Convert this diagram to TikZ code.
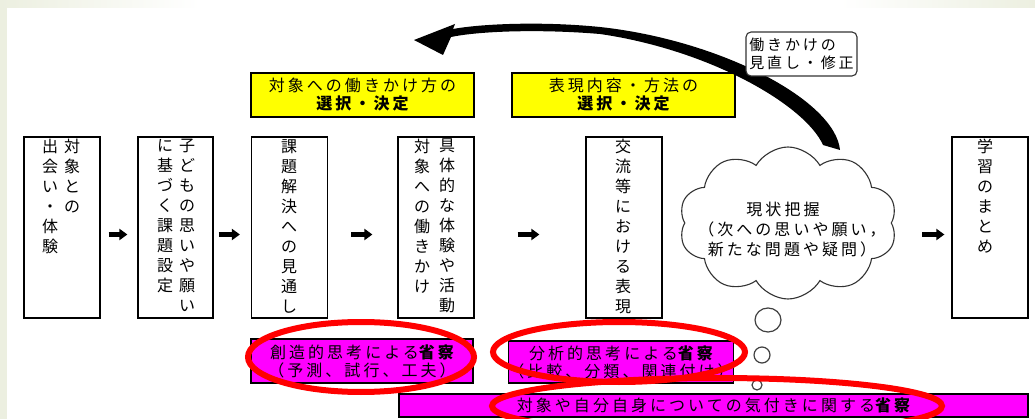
\documentclass[tikz,border=0pt]{standalone}
\usepackage{fontspec}
\setmainfont{Noto Sans CJK JP}
\newfontfamily\jp[LetterSpace=19]{Noto Sans CJK JP}
\newfontfamily\jpv{Noto Sans CJK JP}
\usetikzlibrary{shapes.symbols,arrows.meta,calc}
\definecolor{bgstrip}{RGB}{236,239,224}
\definecolor{yel}{RGB}{255,255,0}
\definecolor{mag}{RGB}{255,0,255}
\definecolor{redring}{RGB}{255,0,0}
\begin{document}
\begin{tikzpicture}[x=1pt,y=-1pt,
  vbox/.style={draw=black, line width=1.2pt, fill=white, minimum width=76pt, minimum height=181pt, inner sep=0},
  vtext/.style={font=\jpv\fontsize{16}{20}\selectfont, align=center, anchor=north, inner sep=0},
  ybox/.style={draw=black, line width=1.2pt, fill=yel, minimum width=223pt, minimum height=44pt, inner sep=0, align=center, font=\jp\fontsize{16}{18}\selectfont},
  mbox/.style={draw=black, line width=1.2pt, fill=mag, inner sep=0, align=center, font=\jp\fontsize{16}{18}\selectfont},
  arr/.style={-{Triangle[length=8pt,width=11pt]}, line width=4.5pt},
  ring/.style={draw=redring, line width=6pt},
  bubble/.style={draw=black!75, line width=1.2pt, fill=white}
]
\clip (0,0) rectangle (1035,419);
\fill[white] (0,0) rectangle (1035,419);
% background strips
\fill[bgstrip] (0,0) rectangle (7,419);
\shade[left color=bgstrip, right color=white] (0,0) rectangle (200,8);
\shade[left color=white, right color=bgstrip] (840,0) rectangle (1035,8);

% yellow boxes
\node[ybox] (ya) at (362.5,95) {対象への働きかけ方の\\{\bfseries 選択・決定}};
\node[ybox] (yb) at (623.5,95) {表現内容・方法の\\{\bfseries 選択・決定}};

% vertical boxes
\node[vbox] (b1) at (62,227.5) {};
\node[vbox, minimum width=75pt] (b2) at (175.5,227.5) {};
\node[vbox] (b3) at (289.5,227.5) {};
\node[vbox] (b4) at (436,227.5) {};
\node[vbox] (b5) at (624,227.5) {};
\node[vbox] (b6) at (990,227.5) {};

\node[vtext] (t1a) at (72,139) {対\\象\\と\\の};
\node[vtext] (t1b) at (50,139) {出\\会\\い\\・\\体\\験};
\node[vtext] (t2a) at (187,139) {子\\ど\\も\\の\\思\\い\\や\\願\\い};
\node[vtext] (t2b) at (165,139) {に\\基\\づ\\く\\課\\題\\設\\定};
\node[vtext] (t3) at (289,139) {課\\題\\解\\決\\へ\\の\\見\\通\\し};
\node[vtext] (t4a) at (447,139) {具\\体\\的\\な\\体\\験\\や\\活\\動};
\node[vtext] (t4b) at (422,139) {対\\象\\へ\\の\\働\\き\\か\\け};
\node[vtext] (t5) at (623,139) {交\\流\\等\\に\\お\\け\\る\\表\\現};
\node[vtext] (t6) at (985,139) {学\\習\\の\\ま\\と\\め};

% cloud
\node[cloud, draw=black!80, line width=1.1pt, fill=white, cloud puffs=10, cloud puff arc=120,
      cloud ignores aspect, minimum width=218pt, minimum height=152pt, inner sep=0] (cl) at (788,223) {};
\node[font=\jp\fontsize{16}{20}\selectfont, align=center, inner sep=0] (clt) at (792,230)
  {現状把握\kern18pt\\（次への思いや願い，\\新たな問題や疑問）};

% thought bubbles
\draw[bubble] (768,320) ellipse [x radius=13, y radius=12];
\draw[bubble] (762,355) circle [radius=8];
\draw[bubble] (757,385) circle [radius=5];

% small flow arrows
\draw[arr, shorten <=8pt, shorten >=10pt] ([yshift=-7pt]b1.east) -- ([yshift=-7pt]b2.west);
\draw[arr, shorten <=5pt, shorten >=11pt] ([yshift=-7pt]b2.east) -- ([yshift=-7pt]b3.west);
\draw[arr, shorten <=23pt, shorten >=25pt] ([yshift=-7pt]b3.east) -- ([yshift=-7pt]b4.west);
\draw[arr, shorten <=43pt, shorten >=46pt] ([yshift=-7pt]b4.east) -- ([yshift=-7pt]b5.west);
\coordinate (c6) at (922,234.5);
\draw[arr, shorten >=7pt] (c6) -- ([yshift=-7pt]b6.west);

% curved feedback arrow
\fill[black] (840,150) .. controls (835,100) and (720,40) .. (600,27)
  .. controls (540,21) and (480,24) .. (453,29)
  -- (455,24) -- (414,40) -- (443,55) -- (451,37)
  .. controls (480,31) and (540,29) .. (600,34)
  .. controls (710,50) and (805,105) .. (823,145) -- cycle;

% label
\node[draw=black!80, line width=1.1pt, rounded corners=5pt, fill=white, minimum width=111pt, minimum height=44pt,
      inner sep=2pt, align=left, font=\jp\fontsize{15}{18}\selectfont] (lab) at (801.5,54) {働きかけの\\見直し・修正};

% magenta boxes
\node[mbox, minimum width=222pt, minimum height=44pt] (m1) at (362,361) {創造的思考による{\bfseries 省察}\\（予測、試行、工夫）};
\node[mbox, minimum width=218pt, minimum height=42pt] (m2) at (621,362) {分析的思考による{\bfseries 省察}\\（比較、分類、関連付け）};
\node[mbox, minimum width=629pt, minimum height=23pt] (m3) at (713.5,405.5) {対象や自分自身についての気付きに関する{\bfseries 省察}};

% red rings
\draw[ring] (361,357) ellipse [x radius=113, y radius=35];
\draw[ring] (619,352) ellipse [x radius=126, y radius=30];
\draw[ring] (717,406) ellipse [x radius=225, y radius=28];
\end{tikzpicture}
\end{document}
